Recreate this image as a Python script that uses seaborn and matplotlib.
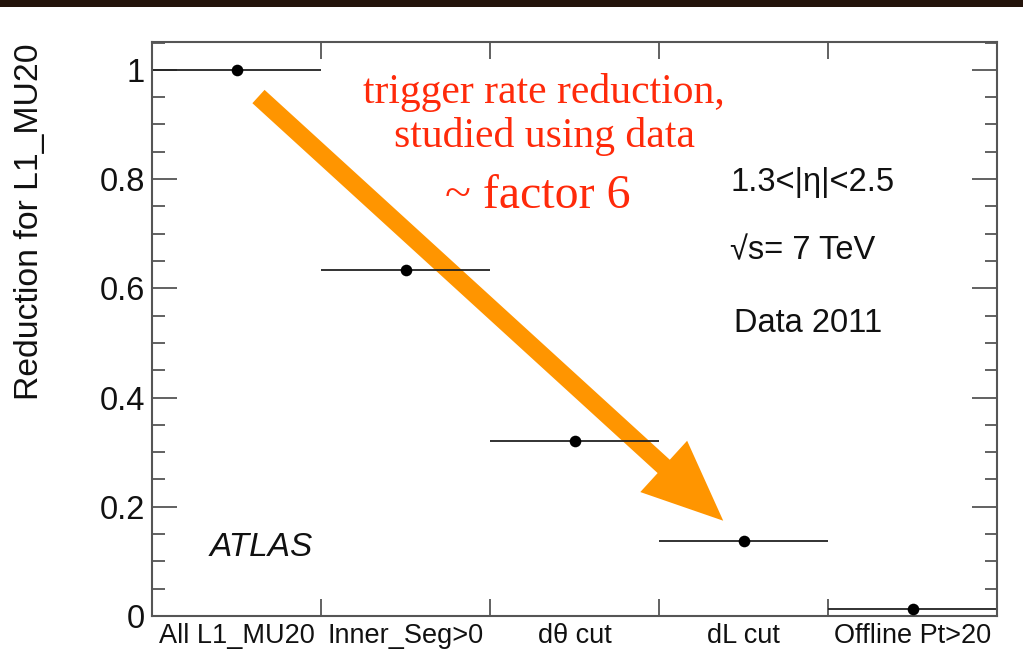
import matplotlib
matplotlib.use("Agg")
import matplotlib.pyplot as plt
import matplotlib.patches as mpatches
from matplotlib.ticker import MultipleLocator, FixedLocator, NullFormatter
import seaborn as sns
import pandas as pd

# Selection steps and the fraction of L1_MU20 triggers kept after each
steps = ["All L1_MU20", "Inner_Seg>0", "d\u03b8 cut", "dL cut", "Offline Pt>20"]
reduction = [1.0, 0.633, 0.320, 0.137, 0.012]

df = pd.DataFrame({"step": range(len(steps)), "reduction": reduction})

sns.set_theme(style="white")
plt.rcParams["font.family"] = ["Liberation Sans", "DejaVu Sans"]

W, H = 1023, 661
fig = plt.figure(figsize=(W / 100, H / 100), dpi=100)
fig.patch.set_facecolor("white")

# dark slide band along the top edge
fig.add_artist(mpatches.Rectangle((0, 1 - 7 / H), 1, 7 / H, transform=fig.transFigure,
                                  facecolor="#24140b", edgecolor="none", zorder=0))

L, R, T, B = 152, 997, 42, 616
ax = fig.add_axes([L / W, 1 - B / H, (R - L) / W, (B - T) / H])

# horizontal bars spanning each bin, plus the marker at the bin centre
ax.errorbar(df["step"], df["reduction"], xerr=0.5, fmt="none",
            ecolor="#222222", elinewidth=1.3, capsize=0, zorder=2)
sns.scatterplot(data=df, x="step", y="reduction", ax=ax, color="black",
                s=70, edgecolor="black", linewidth=0, zorder=3, legend=False)

ax.set_xlim(-0.5, len(steps) - 0.5)
ax.set_ylim(0, 1.051)

# bin edges as ticks, category names under the bin centres
edges = [i + 0.5 for i in range(len(steps) - 1)]
ax.xaxis.set_major_locator(FixedLocator(edges))
ax.xaxis.set_major_formatter(NullFormatter())
ax.xaxis.set_minor_locator(FixedLocator(list(range(len(steps)))))
ax.set_xticklabels(steps, minor=True)
ax.tick_params(axis="x", which="major", direction="in", length=12, width=1.3,
               color="#555555", top=True, bottom=True)
ax.tick_params(axis="x", which="minor", length=0, pad=5, labelsize=19.5,
               labelcolor="#111111", top=False)

ax.yaxis.set_major_locator(MultipleLocator(0.2))
ax.yaxis.set_minor_locator(MultipleLocator(0.05))
ax.yaxis.set_major_formatter(plt.FuncFormatter(lambda v, p: f"{v:g}"))
ax.tick_params(axis="y", which="major", direction="in", length=18, width=1.3,
               color="#555555", left=True, right=True, labelsize=23.5, pad=5,
               labelcolor="#111111")
ax.tick_params(axis="y", which="minor", direction="in", length=9, width=1.3,
               color="#555555", left=True, right=True)

for sp in ax.spines.values():
    sp.set_color("#555555")
    sp.set_linewidth(1.5)

ax.set_xlabel("")
ax.set_ylabel("")
fig.text(30 / W, 1 - 222 / H, "Reduction for L1_MU20", rotation=90,
         ha="center", va="center", fontsize=24.3, color="#111111")

# ATLAS labels inside the frame
ax.text(0.068, 0.119, "ATLAS", transform=ax.transAxes, fontsize=24,
        style="italic", color="#111111", ha="left", va="center")
ax.text(0.782, 0.755, "1.3<|\u03b7|<2.5", transform=ax.transAxes, fontsize=23.5,
        color="#111111", ha="center", va="center")
ax.text(0.77, 0.637, "\u221as= 7 TeV", transform=ax.transAxes, fontsize=23.5,
        color="#111111", ha="center", va="center")
ax.text(0.777, 0.510, "Data 2011", transform=ax.transAxes, fontsize=23.5,
        color="#111111", ha="center", va="center")

# orange arrow showing the drop in rate
ax.annotate("", xy=(0.676, 0.166), xytext=(0.126, 0.905), xycoords="axes fraction",
            arrowprops=dict(arrowstyle="simple,head_length=5.8,head_width=5.0,tail_width=1.3",
                            mutation_scale=10, color="#ff9500", shrinkA=0, shrinkB=0,
                            linewidth=0), zorder=1)

red = "#ff2a0a"
serif = ["Liberation Serif", "DejaVu Serif"]
fig.text(544 / W, 1 - 92 / H, "trigger rate reduction,", family=serif,
         fontsize=30, color=red, ha="center", va="center")
fig.text(545 / W, 1 - 137 / H, "studied using data", family=serif,
         fontsize=30, color=red, ha="center", va="center")
fig.text(538 / W, 1 - 196 / H, "~ factor 6", family=serif,
         fontsize=34.5, color=red, ha="center", va="center")

fig.savefig("out.png", dpi=100, facecolor="white")
